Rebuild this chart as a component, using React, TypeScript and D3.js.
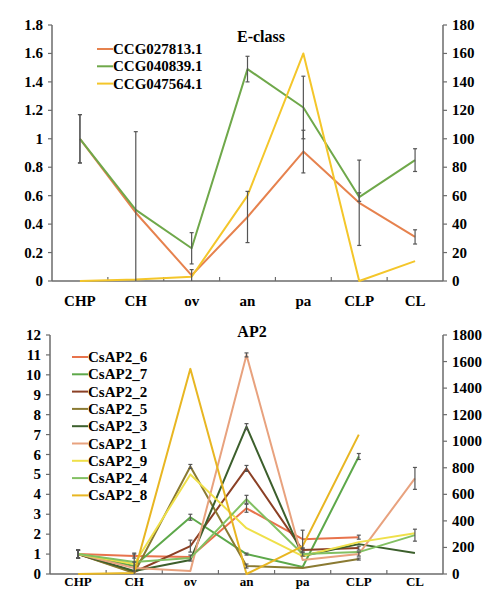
import React from "react";
import * as d3 from "d3";

const categories = ["CHP", "CH", "ov", "an", "pa", "CLP", "CL"];

// E-class
const eNames = ["CCG027813.1", "CCG040839.1", "CCG047564.1"];
const eColors = ["#E6824E", "#6FA84A", "#F4C62A"];
const eAxis = ["left", "left", "right"];
const eOrange = [1.0, 0.48, 0.04, 0.45, 0.91, 0.55, 0.31];
const eGreen = [1.0, 0.5, 0.23, 1.49, 1.22, 0.59, 0.85];
const eYellow = [0, 1, 3, 60, 160, 0, 14];
const eOrangeErr = [0.17, 0.57, 0.04, 0.18, 0.15, 0.3, 0.05];
const eGreenErr = [0.17, null, 0.11, 0.09, 0.22, 0.03, 0.08];
const eYellowErr = [null, null, null, null, null, null, null];
const eLeftTicks = [0, 0.2, 0.4, 0.6, 0.8, 1, 1.2, 1.4, 1.6, 1.8];
const eRightTicks = [0, 20, 40, 60, 80, 100, 120, 140, 160, 180];

// AP2
const apNames = ["CsAP2_6", "CsAP2_7", "CsAP2_2", "CsAP2_5", "CsAP2_3", "CsAP2_1", "CsAP2_9", "CsAP2_4", "CsAP2_8"];
const apColors = ["#E8734C", "#5DA84A", "#8B4025", "#8A7A32", "#3C5F2C", "#E8A27E", "#EFE04A", "#82C062", "#E8B622"];
const ap6 = [1.0, 0.9, 0.85, 3.3, 1.75, 1.85, null];
const ap7 = [1.0, 0.4, 2.85, 1.0, 0.35, 5.9, null];
const ap2 = [1.0, 0.1, 1.4, 5.3, 1.2, 1.3, null];
const ap5 = [1.0, 0.05, 5.4, 0.4, 0.3, 0.75, null];
const ap3 = [1.0, 0.15, 0.7, 7.4, 0.9, 1.5, 1.05];
const ap1 = [1.0, 0.3, 0.15, 11.0, 0.7, 1.0, 4.8];
const ap9 = [1.0, 0.5, 5.0, 2.3, 0.9, 1.6, 2.05];
const ap4 = [1.0, 0.6, 0.8, 3.75, 1.0, 1.1, 1.95];
const ap8 = [0, 0.05, 10.3, 0, 1.4, 7.0, null];
const ap6Err = [0.2, 0.1, null, 0.2, 0.45, 0.1, null];
const ap7Err = [0.2, null, 0.15, 0.05, null, 0.15, null];
const ap2Err = [0.2, null, 0.3, 0.15, 0.1, 0.1, null];
const ap5Err = [0.2, null, 0.1, 0.1, null, 0.05, null];
const ap3Err = [0.2, null, null, 0.15, null, null, null];
const ap1Err = [0.2, 0.3, null, 0.1, null, 0.1, 0.55];
const ap9Err = [null, null, null, null, null, null, null];
const ap4Err = [0.2, 0.45, 0.15, 0.2, 0.1, null, 0.3];
const ap8Err = [null, null, null, null, null, null, null];
const apLeftTicks = [0, 1, 2, 3, 4, 5, 6, 7, 8, 9, 10, 11, 12];
const apRightTicks = [0, 200, 400, 600, 800, 1000, 1200, 1400, 1600, 1800];

const FONT = "'Times New Roman', Times, 'Liberation Serif', 'DejaVu Serif', serif";
const AXIS = "#6b6b6b";
const ERR = "#555555";
const TXT = { fontFamily: FONT, fontWeight: 700 as const };

type Series = { name: string; color: string; values: (number | null)[]; err: (number | null)[]; axis: string };

function Panel(props: {
  title: string; titleX: number; titleY: number;
  x0: number; x1: number; yTop: number; yBot: number;
  leftMax: number; rightMax: number; leftTicks: number[]; rightTicks: number[];
  series: Series[]; legendX: number; legendY: number; legendStep: number;
  leftFmt: (v: number) => string; labelY: number; labelSize: number;
}) {
  const p = props;
  const x = d3.scalePoint<string>().domain(categories).range([p.x0, p.x1]).padding(0.5);
  const yL = d3.scaleLinear().domain([0, p.leftMax]).range([p.yBot, p.yTop]);
  const yR = d3.scaleLinear().domain([0, p.rightMax]).range([p.yBot, p.yTop]);
  const step = x.step();
  const bounds = d3.range(1, categories.length).map((i) => p.x0 + i * step);
  return (
    <g>
      <text x={p.titleX} y={p.titleY} textAnchor="middle" style={{ ...TXT, fontSize: 16 }}>{p.title}</text>
      <line x1={p.x0} x2={p.x0} y1={p.yTop} y2={p.yBot} stroke={AXIS} strokeWidth={1.5} />
      <line x1={p.x1} x2={p.x1} y1={p.yTop} y2={p.yBot} stroke={AXIS} strokeWidth={1.5} />
      <line x1={p.x0} x2={p.x1} y1={p.yBot} y2={p.yBot} stroke={AXIS} strokeWidth={1.5} />
      {p.leftTicks.map((t) => (
        <g key={"l" + t}>
          <line x1={p.x0 - 4} x2={p.x0} y1={yL(t)} y2={yL(t)} stroke={AXIS} strokeWidth={1.2} />
          <text x={p.x0 - 9} y={yL(t) + 5} textAnchor="end" style={{ ...TXT, fontSize: 15 }}>{p.leftFmt(t)}</text>
        </g>
      ))}
      {p.rightTicks.map((t) => (
        <g key={"r" + t}>
          <line x1={p.x1} x2={p.x1 + 4} y1={yR(t)} y2={yR(t)} stroke={AXIS} strokeWidth={1.2} />
          <text x={p.x1 + 9} y={yR(t) + 5} textAnchor="start" style={{ ...TXT, fontSize: 15 }}>{t}</text>
        </g>
      ))}
      {bounds.map((b, i) => (
        <line key={"b" + i} x1={b} x2={b} y1={p.yBot - 4} y2={p.yBot} stroke={AXIS} strokeWidth={1.2} />
      ))}
      {categories.map((c) => (
        <text key={c} x={x(c)} y={p.labelY} textAnchor="middle" style={{ ...TXT, fontSize: p.labelSize }}>{c}</text>
      ))}
      {p.series.map((s) => {
        const y = s.axis === "right" ? yR : yL;
        const line = d3.line<number | null>()
          .defined((v) => v !== null)
          .x((_, i) => x(categories[i]) as number)
          .y((v) => y(v as number));
        return <path key={s.name} d={line(s.values) || ""} fill="none" stroke={s.color} strokeWidth={2} strokeLinejoin="round" />;
      })}
      {p.series.map((s) => {
        const y = s.axis === "right" ? yR : yL;
        return s.values.map((v, i) => {
          const e = s.err[i];
          if (v === null || e === null || e === undefined) return null;
          const cx = x(categories[i]) as number;
          const lo = Math.max(0, v - e);
          const hi = v + e;
          return (
            <g key={s.name + i}>
              <line x1={cx} x2={cx} y1={y(lo)} y2={y(hi)} stroke={ERR} strokeWidth={1.2} />
              <line x1={cx - 2} x2={cx + 2} y1={y(hi)} y2={y(hi)} stroke={ERR} strokeWidth={1.2} />
              {lo > 0 && <line x1={cx - 2} x2={cx + 2} y1={y(lo)} y2={y(lo)} stroke={ERR} strokeWidth={1.2} />}
            </g>
          );
        });
      })}
      {p.series.map((s, i) => {
        const cy = p.legendY + i * p.legendStep;
        return (
          <g key={"lg" + s.name}>
            <line x1={p.legendX} x2={p.legendX + 16} y1={cy} y2={cy} stroke={s.color} strokeWidth={2} />
            <text x={p.legendX + 16} y={cy + 5} style={{ ...TXT, fontSize: 15 }}>{s.name}</text>
          </g>
        );
      })}
    </g>
  );
}

export default function App() {
  const eValues = [eOrange, eGreen, eYellow];
  const eErrs = [eOrangeErr, eGreenErr, eYellowErr];
  const eSeries: Series[] = eNames.map((n, i) => ({ name: n, color: eColors[i], values: eValues[i], err: eErrs[i], axis: eAxis[i] }));
  const apValues = [ap6, ap7, ap2, ap5, ap3, ap1, ap9, ap4, ap8];
  const apErrs = [ap6Err, ap7Err, ap2Err, ap5Err, ap3Err, ap1Err, ap9Err, ap4Err, ap8Err];
  const apSeries: Series[] = apNames.map((n, i) => ({ name: n, color: apColors[i], values: apValues[i], err: apErrs[i], axis: "left" }));
  return (
    <svg width={487} height={590} style={{ position: "absolute", left: 0, top: 0, background: "#fff" }}>
      <rect width={487} height={590} fill="#fff" />
      <Panel title="E-class" titleX={261} titleY={42} x0={52} x1={443} yTop={25} yBot={281}
        leftMax={1.8} rightMax={180} leftTicks={eLeftTicks} rightTicks={eRightTicks}
        series={eSeries} legendX={97} legendY={49} legendStep={17.3}
        leftFmt={(v) => (v === 0 || v === 1 ? String(v) : d3.format(".1f")(v))}
        labelY={306} labelSize={15} />
      <Panel title="AP2" titleX={252} titleY={337} x0={50} x1={443} yTop={335} yBot={574}
        leftMax={12} rightMax={1800} leftTicks={apLeftTicks} rightTicks={apRightTicks}
        series={apSeries} legendX={72} legendY={357} legendStep={17.3}
        leftFmt={(v) => String(v)} labelY={586} labelSize={13} />
    </svg>
  );
}
